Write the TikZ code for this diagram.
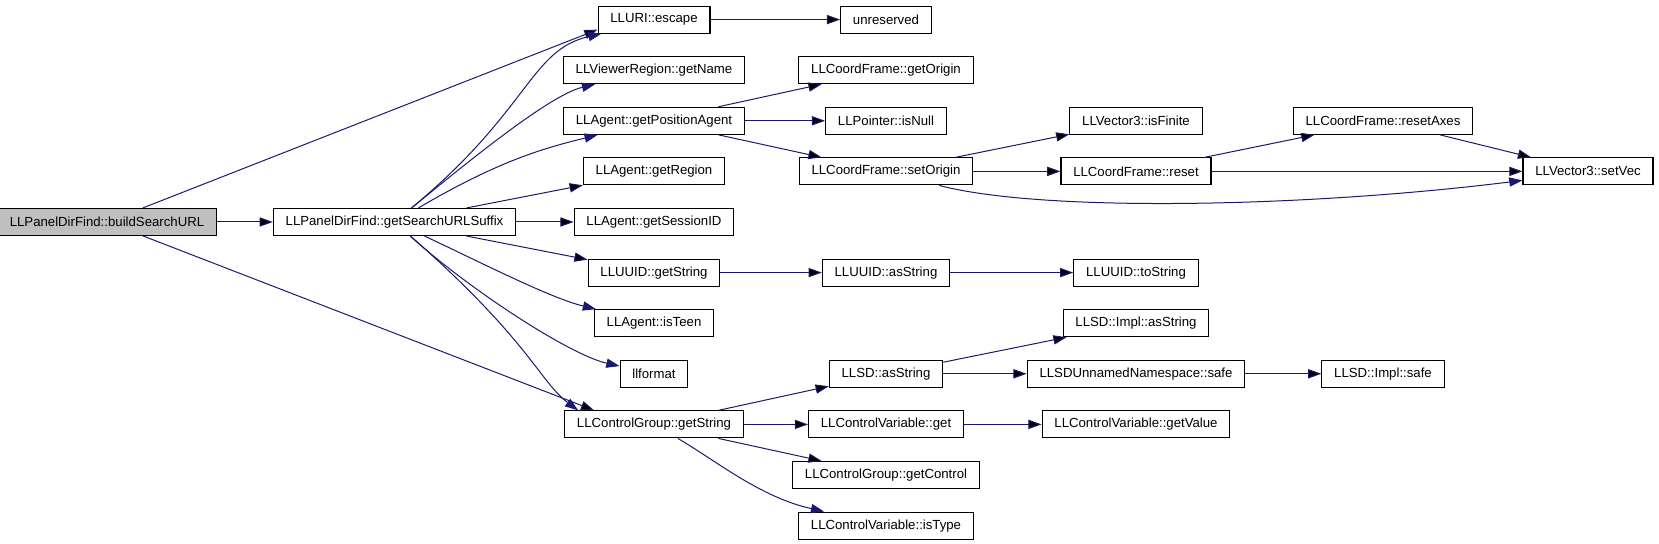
\documentclass[tikz,border=0pt]{standalone}
\usepackage{fontspec}
\setmainfont{Liberation Sans}
\usepackage{tikz}
\usetikzlibrary{positioning, arrows.meta}
\definecolor{callblue}{HTML}{191970}
\tikzstyle{fn} = [draw, rectangle, line width=0.55pt, minimum height=13.5pt, inner xsep=6.15pt, inner ysep=0pt, font=\fontsize{6.6pt}{8pt}\selectfont]
\tikzstyle{call} = [->, >={Triangle[length=6.6pt,width=4.6pt]}, draw=callblue, line width=0.5pt]

\begin{document}
\begin{tikzpicture}[x=0.5pt, y=-0.5pt, node distance=25.3pt]
    \useasboundingbox (0,0) rectangle (1659,544);
    \node[fn, fill=gray!50] (build) at (107,222) {LLPanelDirFind::buildSearchURL};
    \node[fn, right of=build, xshift=118.45pt] (suffix) {LLPanelDirFind::getSearchURLSuffix};
    % callees of getSearchURLSuffix
    \node[fn, right of=suffix, xshift=104.45pt] (sessionid) {LLAgent::getSessionID};
    \node[fn, above of=sessionid] (region) {LLAgent::getRegion};
    \node[fn, above of=region] (posagent) {LLAgent::getPositionAgent};
    \node[fn, above of=posagent] (regname) {LLViewerRegion::getName};
    \node[fn, above of=regname] (escape) {LLURI::escape};
    \node[fn, below of=sessionid] (uuidget) {LLUUID::getString};
    \node[fn, below of=uuidget] (teen) {LLAgent::isTeen};
    \node[fn, below of=teen] (llformat) {llformat};
    \node[fn, below of=llformat] (cgget) {LLControlGroup::getString};
    % third level
    \node[fn, right of=escape, xshift=90.7pt] (unreserved) {unreserved};
    \node[fn, right of=regname, xshift=90.7pt] (getorigin) {LLCoordFrame::getOrigin};
    \node[fn, right of=posagent, xshift=90.7pt] (isnull) {LLPointer::isNull};
    \node[fn, right of=region, xshift=90.7pt] (setorigin) {LLCoordFrame::setOrigin};
    \node[fn, right of=uuidget, xshift=90.7pt] (uuidas) {LLUUID::asString};
    \node[fn, right of=llformat, xshift=90.7pt] (sdas) {LLSD::asString};
    \node[fn, right of=cgget, xshift=90.7pt] (cvget) {LLControlVariable::get};
    \node[fn, below of=cvget] (getcontrol) {LLControlGroup::getControl};
    \node[fn, below of=getcontrol] (istype) {LLControlVariable::isType};
    % fourth level and beyond
    \node[fn, right of=isnull, xshift=99.7pt] (finite) {LLVector3::isFinite};
    \node[fn, right of=setorigin, xshift=99.7pt] (reset) {LLCoordFrame::reset};
    \node[fn, right of=uuidas, xshift=99.7pt] (tostring) {LLUUID::toString};
    \node[fn, right of=sdas, xshift=99.7pt] (sdsafe) {LLSDUnnamedNamespace::safe};
    \node[fn, above of=sdsafe] (implas) {LLSD::Impl::asString};
    \node[fn, right of=cvget, xshift=99.7pt] (getvalue) {LLControlVariable::getValue};
    \node[fn, right of=finite, xshift=98.2pt] (resetaxes) {LLCoordFrame::resetAxes};
    \node[fn, right of=sdsafe, xshift=98.2pt] (implsafe) {LLSD::Impl::safe};
    \node[fn, right of=reset, xshift=200.7pt] (setvec) {LLVector3::setVec};
    \draw[call] (build) edge (suffix)
    (build) edge ([yshift=2pt]escape.south west)
    (build) edge ([xshift=15pt]cgget.north west)
    (suffix) edge (sessionid)
    (suffix) edge (region)
    (suffix) edge (uuidget)
    (escape) edge (unreserved)
    (posagent) edge (getorigin)
    (posagent) edge (isnull)
    (posagent) edge (setorigin)
    (setorigin) edge (finite)
    (setorigin) edge (reset)
    (reset) edge (resetaxes)
    (reset) edge (setvec)
    (resetaxes) edge (setvec)
    (uuidget) edge (uuidas)
    (uuidas) edge (tostring)
    (cgget) edge (sdas)
    (cgget) edge (cvget)
    (cgget) edge (getcontrol)
    (sdas) edge (implas)
    (sdas) edge (sdsafe)
    (sdsafe) edge (implsafe)
    (cvget) edge (getvalue);
    % curved calls
    \draw[call] (suffix) .. controls (530,110) and (530,50) .. ([xshift=2pt]escape.south west);
    \draw[call] (suffix) .. controls (470,160) and (550,95) .. (regname);
    \draw[call] (suffix) .. controls (500,160) and (545,148) .. (posagent);
    \draw[call] (suffix) .. controls (480,262) and (550,298) .. (teen);
    \draw[call] (suffix) .. controls (470,290) and (570,355) .. (llformat);
    \draw[call] (suffix) .. controls (530,341) and (540,382) .. ([xshift=7pt]cgget.north west);
    \draw[call] (cgget) .. controls (718,462) and (760,497) .. (istype);
    \draw[call] (setorigin) .. controls (1040,212) and (1300,208) .. ([yshift=-4.5pt]setvec.west);
\end{tikzpicture}
\end{document}
